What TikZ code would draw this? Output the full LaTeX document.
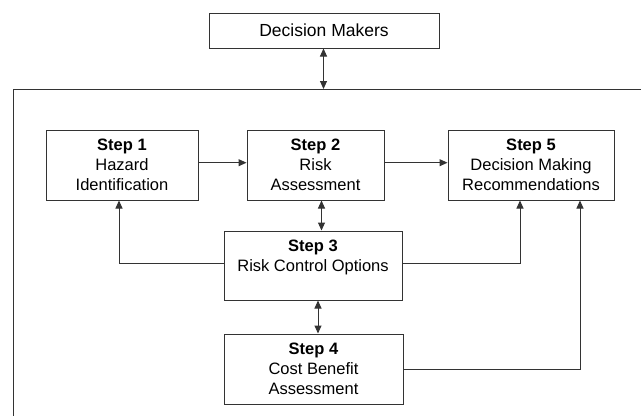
\documentclass[tikz,border=0pt]{standalone}
\usepackage{fontspec}
\setmainfont{Liberation Sans}
\usetikzlibrary{arrows.meta}

\begin{document}
\begin{tikzpicture}[x=1pt, y=-1pt, line width=1pt, draw=black!80,
    stepbox/.style ={rectangle, draw, align=center, inner sep=0pt,
      font=\fontsize{16.5}{20}\selectfont},
    link/.style ={-{Triangle[length=8pt,width=7pt]}},
    twoway/.style ={{Triangle[length=8pt,width=7pt]}-{Triangle[length=8pt,width=7pt]}}]
   \useasboundingbox (0,0) rectangle (641,416);
   \node[stepbox, minimum width=230pt, minimum height=35pt, font=\fontsize{17.5}{20}\selectfont] (DM) at (324,30.5) {Decision Makers};
   \node[stepbox, minimum width=152pt, minimum height=70pt] (S1) at (122,165) {\textbf{Step 1}\\Hazard\\Identification};
   \node[stepbox, minimum width=137pt, minimum height=70pt] (S2) at (315.5,165) {\textbf{Step 2}\\Risk\\Assessment};
   \node[stepbox, minimum width=166pt, minimum height=70pt] (S5) at (531,165) {\textbf{Step 5}\\Decision Making\\Recommendations};
   \node[stepbox, minimum width=178pt, minimum height=69pt] (S3) at (313,265.5) {\textbf{Step 3}\\Risk Control Options\\\mbox{}};
   \node[stepbox, minimum width=179pt, minimum height=70pt] (S4) at (313.5,369) {\textbf{Step 4}\\Cost Benefit\\Assessment};

   % outer frame, open to the right and below
   \draw (641,89) -- (13,89) -- (13,416);
   \coordinate (top) at (323.5,89);

   \draw[twoway] (DM.south -| top) -- (top);
   \draw[link] ([yshift=2.3pt]S1.east) -- ([yshift=2.3pt]S1.east -| S2.west);
   \draw[link] ([yshift=2.3pt]S2.east) -- ([yshift=2.3pt]S2.east -| S5.west);
   \draw[twoway] ([xshift=8.5pt]S3.north |- S2.south) -- ([xshift=8.5pt]S3.north);
   \draw[twoway] ([xshift=5pt]S3.south) -- ([xshift=5pt]S3.south |- S4.north);
   \draw[link] ([yshift=2.5pt]S3.west) -| ([xshift=-3pt]S1.south);
   \draw[link] ([yshift=2.5pt]S3.east) -| ([xshift=-11pt]S5.south);
   \draw[link] (S4.east) -| ([xshift=49pt]S5.south);
 \end{tikzpicture}
\end{document}
